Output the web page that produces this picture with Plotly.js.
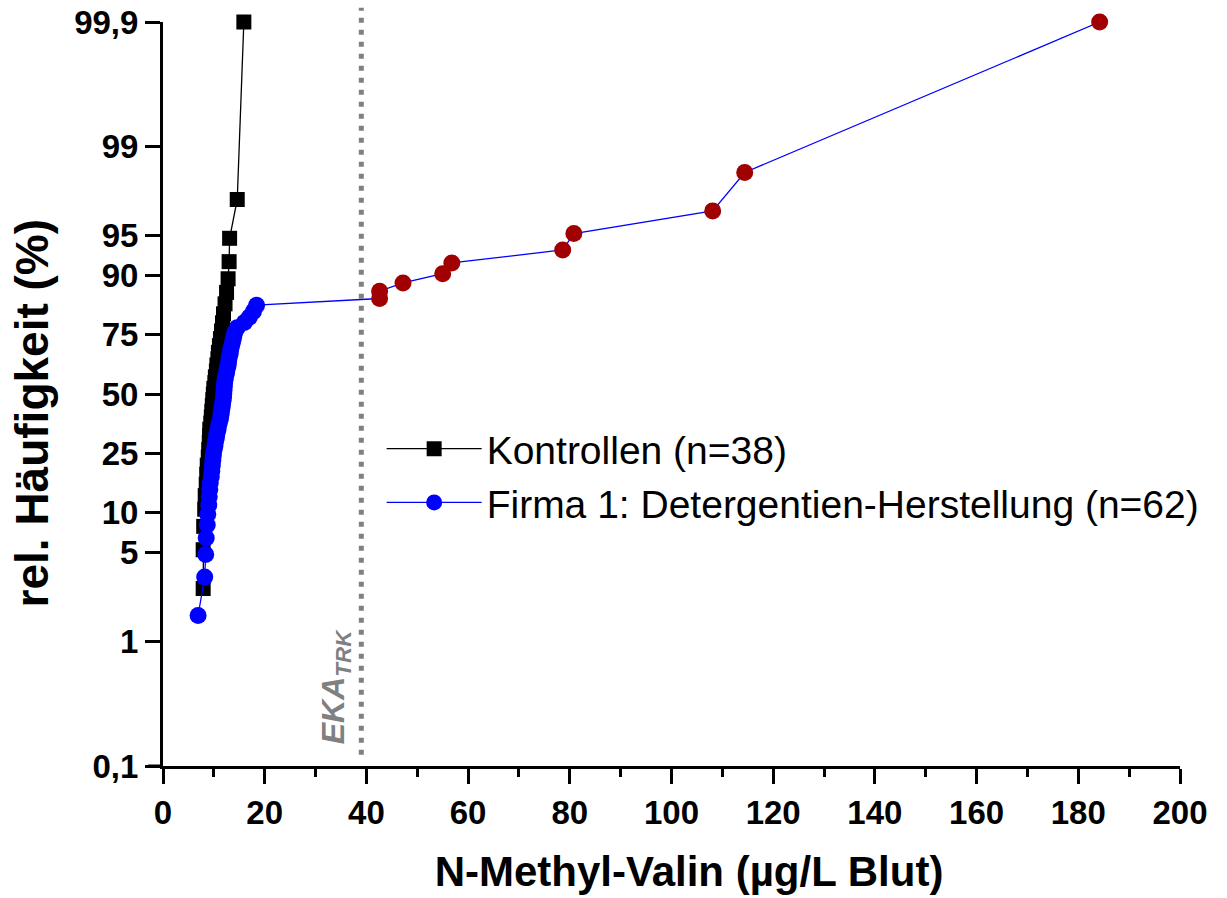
<!DOCTYPE html>
<html>
<head>
<meta charset="utf-8">
<script src="https://cdn.plot.ly/plotly-3.0.1.min.js"></script>
<style>
html,body{margin:0;padding:0;background:#fff;}
#chart{width:1227px;height:898px;}
</style>
</head>
<body>
<div id="chart"></div>
<script>
// Kontrollen (n=38): N-Methyl-Valin values and cumulative relative frequency (%)
const xKontrollen = [7.9, 7.9, 8.0, 8.2, 8.3, 8.5, 8.6, 8.7, 8.9, 9.0, 9.1, 9.15, 9.2, 9.4, 9.5, 9.6, 9.7, 9.8, 9.9, 10.0,
  10.2, 10.3, 10.5, 10.6, 10.8, 10.9, 11.1, 11.3, 11.5, 11.7, 11.9, 12.2, 12.5, 12.8, 13.0, 13.1, 14.6, 15.9];
const yKontrollen = [2.63, 5.26, 7.89, 10.53, 13.16, 15.79, 18.42, 21.05, 23.68, 26.32, 28.95, 31.58, 34.21, 36.84, 39.47,
  42.11, 44.74, 47.37, 50.00, 52.63, 55.26, 57.89, 60.53, 63.16, 65.79, 68.42, 71.05, 73.68, 76.32, 78.95, 81.58, 84.21,
  86.84, 89.47, 92.11, 94.74, 97.37, 99.9];

// Firma 1: Detergentien-Herstellung (n=62)
const xFirma = [6.9, 8.2, 8.4, 8.5, 8.7, 8.8, 9.0, 9.1, 9.2, 9.3, 9.5, 9.6, 9.7, 9.8, 9.9, 10.0, 10.2, 10.3, 10.5, 10.6,
  10.8, 10.9, 11.1, 11.3, 11.4, 11.5, 11.6, 11.7, 11.8, 11.9, 11.95, 12.0, 12.05, 12.1, 12.2, 12.3, 12.5, 12.6, 12.8, 12.9,
  13.0, 13.2, 13.3, 13.5, 13.7, 13.9, 14.1, 14.6, 16.0, 17.0, 17.8, 18.4,
  42.6, 42.6, 47.2, 55.0, 56.8, 78.6, 80.8, 108.1, 114.4, 184.2];
const yFirma = [1.61, 3.23, 4.84, 6.45, 8.06, 9.68, 11.29, 12.90, 14.52, 16.13, 17.74, 19.35, 20.97, 22.58, 24.19, 25.81,
  27.42, 29.03, 30.65, 32.26, 33.87, 35.48, 37.10, 38.71, 40.32, 41.94, 43.55, 45.16, 46.77, 48.39, 50.00, 51.61, 53.23,
  54.84, 56.45, 58.06, 59.68, 61.29, 62.90, 64.52, 66.13, 67.74, 69.35, 70.97, 72.58, 74.19, 75.81, 77.42, 79.03, 80.65,
  82.26, 83.87, 85.48, 87.10, 88.71, 90.32, 91.94, 93.55, 95.16, 96.77, 98.39, 99.9];

// EKA (TRK) limit
const ekaValue = 39;

// Probability-axis ticks (%)
const yTickPercent = [0.1, 1, 5, 10, 25, 50, 75, 90, 95, 99, 99.9];
const yTickLabels = ['0,1', '1', '5', '10', '25', '50', '75', '90', '95', '99', '99,9'];
const xTickVals = [0, 20, 40, 60, 80, 100, 120, 140, 160, 180, 200];

const seriesNames = ['Kontrollen (n=38)', 'Firma 1: Detergentien-Herstellung (n=62)'];

// logit transform for the probability scale
const logit = p => Math.log(p / (100 - p));

const FONT = 'Liberation Sans, Arial, Helvetica, sans-serif';

const traces = [
  {
    x: xKontrollen,
    y: yKontrollen.map(logit),
    name: seriesNames[0],
    mode: 'lines+markers',
    type: 'scatter',
    cliponaxis: false,
    line: {color: '#000000', width: 1.3},
    marker: {symbol: 'square', size: 15, color: '#000000'}
  },
  {
    x: xFirma,
    y: yFirma.map(logit),
    name: seriesNames[1],
    mode: 'lines+markers',
    type: 'scatter',
    cliponaxis: false,
    line: {color: '#0000ff', width: 1.3},
    marker: {symbol: 'circle', size: 17,
             color: xFirma.map(v => v > ekaValue ? '#a00000' : '#0000ff')}
  }
];

const layout = {
  width: 1227,
  height: 898,
  margin: {l: 163, r: 47, t: 22, b: 132},
  paper_bgcolor: '#ffffff',
  plot_bgcolor: '#ffffff',
  font: {family: FONT, color: '#000000'},
  showlegend: true,
  legend: {
    x: 0.215, y: 0.39, xanchor: 'left', yanchor: 'middle',
    font: {family: FONT, size: 39, color: '#000000'},
    bgcolor: 'rgba(0,0,0,0)',
    itemwidth: 95,
    tracegroupgap: 0
  },
  xaxis: {
    range: [0, 200],
    tickvals: xTickVals,
    ticks: 'outside', ticklen: 15, tickwidth: 3, tickcolor: '#000',
    minor: {dtick: 10, tick0: 0, ticks: 'outside', ticklen: 8, tickwidth: 3, tickcolor: '#000', showgrid: false},
    showline: true, linewidth: 3, linecolor: '#000',
    showgrid: false, zeroline: false,
    tickfont: {family: FONT, size: 33, color: '#000', weight: 'bold'},
    title: {text: '<b>\u00a0\u00a0\u00a0N-Methyl-Valin (µg/L Blut)</b>', font: {family: FONT, size: 42, color: '#000'}, standoff: 28}
  },
  yaxis: {
    range: [logit(0.1), logit(99.9)],
    tickvals: yTickPercent.map(logit),
    ticktext: yTickLabels,
    ticks: 'outside', ticklen: 15, tickwidth: 3, tickcolor: '#000',
    showline: true, linewidth: 3, linecolor: '#000',
    showgrid: false, zeroline: false,
    tickfont: {family: FONT, size: 33, color: '#000', weight: 'bold'},
    title: {text: '<b>rel. Häufigkeit (%)\u00a0\u00a0\u00a0</b>', font: {family: FONT, size: 46, color: '#000'}, standoff: 12}
  },
  shapes: [
    {type: 'line', xref: 'x', yref: 'paper', x0: ekaValue, x1: ekaValue, y0: 0.015, y1: 1.019,
     line: {color: '#808080', width: 5, dash: '5px,7px'}},
    {type: 'line', xref: 'paper', yref: 'paper', x0: -0.0147, x1: 0, y0: 0, y1: 0,
     line: {color: '#000000', width: 3}}
  ],
  annotations: [
    {xref: 'x', yref: 'paper', x: 34, y: 0.107, xanchor: 'center', yanchor: 'middle',
     text: '<b><i>EKA<sub>TRK</sub></i></b>', textangle: -90, showarrow: false,
     font: {family: FONT, size: 32, color: '#808080'}}
  ]
};

Plotly.newPlot('chart', traces, layout, {displayModeBar: false, staticPlot: true});
</script>
</body>
</html>
